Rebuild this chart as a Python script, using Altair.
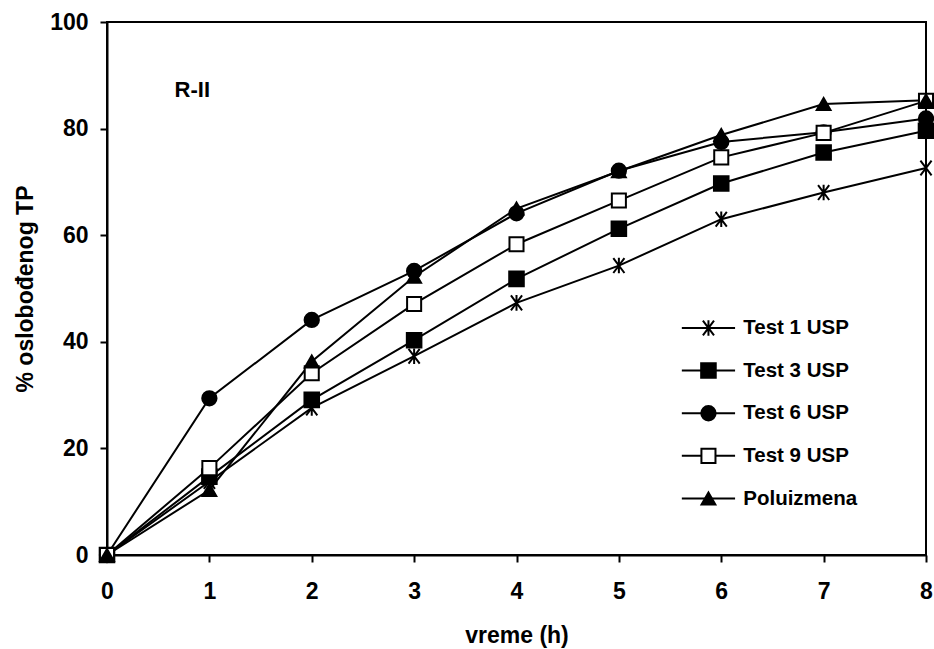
import altair as alt
import pandas as pd

# Dissolution profiles: % of TP released over time (h)
hours = [0, 1, 2, 3, 4, 5, 6, 7, 8]
series_names = ["Test 1 USP", "Test 3 USP", "Test 6 USP", "Test 9 USP", "Poluizmena"]
test1 = [0, 13.8, 27.6, 37.3, 47.3, 54.3, 63.0, 68.0, 72.6]
test3 = [0, 14.7, 29.1, 40.3, 51.8, 61.2, 69.7, 75.5, 79.6]
test6 = [0, 29.4, 44.1, 53.3, 64.1, 72.1, 77.5, 79.3, 81.9]
test9 = [0, 16.3, 34.1, 47.1, 58.3, 66.5, 74.6, 79.2, 85.2]
poluizmena = [0, 12.2, 36.3, 52.2, 65.0, 72.0, 78.8, 84.6, 85.3]
x_ticks = [0, 1, 2, 3, 4, 5, 6, 7, 8]
y_ticks = [0, 20, 40, 60, 80, 100]
panel_label = "R-II"

values = [test1, test3, test6, test9, poluizmena]
rows = []
for name, ys in zip(series_names, values):
    for h, v in zip(hours, ys):
        rows.append({"h": h, "pct": v, "series": name})
df = pd.DataFrame(rows)

FONT = "Liberation Sans"
ASTERISK = "M-0.75,-1L0.75,1M-0.75,1L0.75,-1M0,-1.05L0,1.05"

shape_scale = alt.Scale(domain=series_names,
                        range=[ASTERISK, "square", "circle", "square", "triangle-up"])
fill_scale = alt.Scale(domain=series_names,
                       range=["black", "black", "black", "white", "black"])
size_scale = alt.Scale(domain=series_names, range=[220, 190, 220, 140, 230])

x_scale = alt.Scale(domain=[0, 8], nice=False)
y_scale = alt.Scale(domain=[0, 100], nice=False)

x_enc = alt.X("h:Q", scale=x_scale, title="vreme (h)",
              axis=alt.Axis(values=x_ticks, format="d", grid=False, labelFlush=False,
                            titleY=87, titleBaseline="alphabetic"))
y_enc = alt.Y("pct:Q", scale=y_scale, title="% oslobođenog TP",
              axis=alt.Axis(values=y_ticks, format="d", grid=False, labelFlush=False,
                            titleX=-75, titleBaseline="alphabetic"))

lines = alt.Chart(df).mark_line(color="black", strokeWidth=2).encode(
    x=x_enc, y=y_enc, detail="series:N"
)

points = alt.Chart(df).mark_point(stroke="black", strokeWidth=2, opacity=1).encode(
    x=x_enc, y=y_enc,
    shape=alt.Shape("series:N", scale=shape_scale, legend=None),
    fill=alt.Fill("series:N", scale=fill_scale, legend=None),
    size=alt.Size("series:N", scale=size_scale, legend=None),
)

# Hand-drawn legend inside the plot area, in data units
legend_top, legend_step = 42.6, 8.0
leg = pd.DataFrame({
    "series": series_names,
    "ly": [legend_top - i * legend_step for i in range(len(series_names))],
})
leg["x1"] = 5.615
leg["x2"] = 6.135
leg["xm"] = 5.875
leg["xt"] = 6.215

leg_lines = alt.Chart(leg).mark_rule(color="black", strokeWidth=2).encode(
    x=alt.X("x1:Q", scale=x_scale), x2="x2:Q", y=alt.Y("ly:Q", scale=y_scale)
)
leg_points = alt.Chart(leg).mark_point(stroke="black", strokeWidth=2, opacity=1).encode(
    x=alt.X("xm:Q", scale=x_scale), y=alt.Y("ly:Q", scale=y_scale),
    shape=alt.Shape("series:N", scale=shape_scale, legend=None),
    fill=alt.Fill("series:N", scale=fill_scale, legend=None),
    size=alt.Size("series:N", scale=size_scale, legend=None),
)
leg_text = alt.Chart(leg).mark_text(
    align="left", baseline="middle", font=FONT, fontWeight="bold", fontSize=20.5, color="black"
).encode(
    x=alt.X("xt:Q", scale=x_scale), y=alt.Y("ly:Q", scale=y_scale), text="series:N"
)

label = alt.Chart(pd.DataFrame({"t": [panel_label], "x": [0.66], "y": [87.2]})).mark_text(
    align="left", baseline="middle", font=FONT, fontWeight="bold", fontSize=22, color="black"
).encode(
    x=alt.X("x:Q", scale=x_scale), y=alt.Y("y:Q", scale=y_scale), text="t:N"
)

chart = alt.layer(lines, points, leg_lines, leg_points, leg_text, label).properties(
    width=819, height=533,
    autosize=alt.AutoSizeParams(type="none"),
    padding={"left": 107, "top": 22, "right": 8, "bottom": 94},
    background="white",
).configure_view(
    stroke="black", strokeWidth=2
).configure_axis(
    domainColor="black", domainWidth=2,
    tickColor="black", tickWidth=2, tickSize=7,
    labelFont=FONT, labelFontWeight="bold", labelFontSize=23, labelColor="black",
    titleFont=FONT, titleFontWeight="bold", titleFontSize=23, titleColor="black",
).configure_axisY(
    labelPadding=12
).configure_axisX(
    labelPadding=18
)

chart.save("out.html", embed_options={"renderer": "svg", "actions": False})
